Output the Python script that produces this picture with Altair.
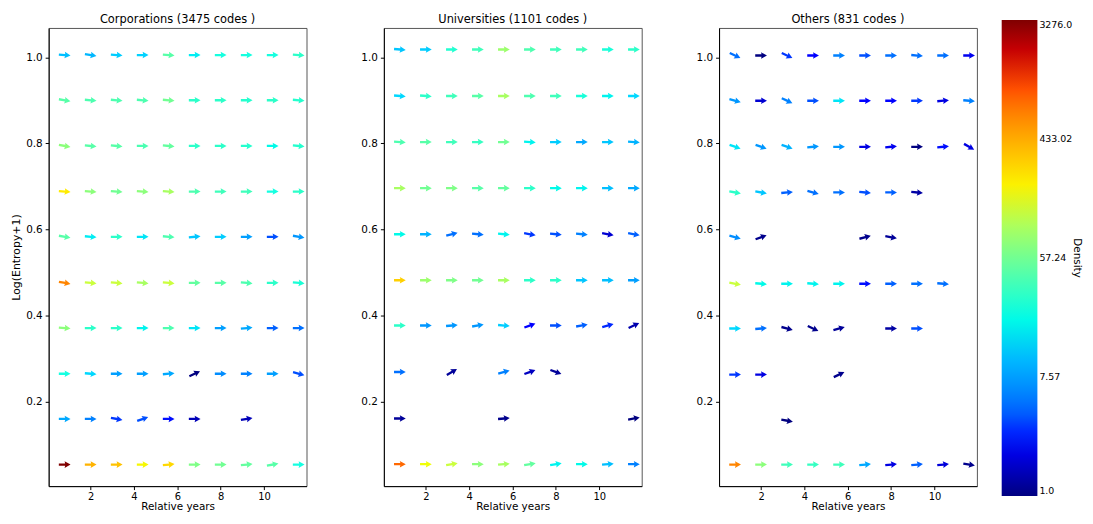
import altair as alt
import numpy as np
import pandas as pd

PANELS = ["Corporations (3475 codes )", "Universities (1101 codes )", "Others (831 codes )"]
XS = [0.8, 2.0, 3.2, 4.4, 5.6, 6.8, 8.0, 9.2, 10.4, 11.6]
YS_CORP = [1.005, 0.900, 0.794, 0.688, 0.583, 0.476, 0.371, 0.265, 0.160, 0.054]
YS_UNIV = [1.018, 0.910, 0.803, 0.696, 0.589, 0.482, 0.377, 0.269, 0.161, 0.055]
YS_OTH = [1.004, 0.899, 0.792, 0.686, 0.582, 0.474, 0.370, 0.263, 0.156, 0.054]
N = None

DENS_CORP = [
    [11, 10, 13, 14, 45, 18, 22, 22, 22, 30],
    [45, 41, 41, 41, 57, 30, 30, 28, 30, 28],
    [73, 45, 45, 40, 50, 30, 30, 28, 20, 28],
    [210, 73, 57, 73, 95, 41, 36, 36, 21, 30],
    [45, 18, 30, 17, 41, 12, 13, 7.6, 3.7, 7],
    [640, 130, 130, 95, 130, 50, 45, 41, 30, 25],
    [73, 30, 30, 19, 41, 17, 7.6, 8.5, 4.2, 4.8],
    [21, 15, 7.6, 7.6, 8.5, 1.0, 6.3, 5.6, 7.6, 3.7],
    [8.5, 5.6, 3.2, 3.7, 2.8, 1.5, N, 1.5, N, N],
    [3276, 400, 340, 190, 265, 65, 57, 50, 45, 21],
]
ANG_CORP = [
    [5, 10, 5, 0, 5, 0, 0, 0, 0, 5],
    [10, 5, 5, 5, 5, 0, 0, 0, 0, 5],
    [10, 5, 5, 0, 5, 0, 0, 0, 0, 5],
    [5, 5, 5, 5, 5, 0, 0, 0, 0, 0],
    [10, 5, 0, 0, 5, -5, 0, 0, 0, 10],
    [10, 5, 5, 5, 5, 0, 0, 5, 0, 5],
    [5, 0, 0, 0, 0, 0, 0, -5, 0, 0],
    [0, 5, 0, 0, -5, -25, 0, 0, 0, 15],
    [0, 0, 10, -20, 0, 0, 0, -10, 0, 0],
    [0, 0, 0, 0, -5, 0, 0, -5, -10, 0],
]

DENS_UNIV = [
    [12, 13, 27, 36, 85, 41, 36, 36, 24, 30],
    [15, 30, 36, 45, 95, 41, 36, 24, 19, 15],
    [41, 45, 36, 33, 57, 19, 13, 8.5, 12, 9.5],
    [95, 57, 65, 45, 50, 30, 20, 19, 11, 8.5],
    [20, 9.5, 4.8, 4.8, 19, 3.2, 3.7, 5.6, 1.8, 4.2],
    [290, 85, 65, 57, 95, 30, 30, 12, 11, 7.6],
    [30, 7, 7, 7, 13, 2.6, 3.7, 4.2, 3, 1.4],
    [4.8, N, 1.2, N, 5.6, 1.6, 1.2, N, N, N],
    [1.2, N, N, N, 1.1, N, N, N, N, 1.0],
    [830, 180, 130, 73, 95, 50, 19, 20, 11, 5.6],
]
ANG_UNIV = [
    [5, 0, 0, 0, 0, 0, 0, 0, 0, 0],
    [5, 5, 0, 0, 0, 0, 0, 0, 0, 0],
    [5, 0, 0, 0, 0, 5, 0, 0, 0, 5],
    [0, 0, 0, 0, 0, 0, 0, 0, 0, 0],
    [0, 0, -15, 5, 5, 10, 5, 5, 10, 10],
    [0, 0, 0, 0, 0, 0, 0, 0, 0, 0],
    [0, 0, -5, -10, 5, -20, 0, -10, -15, -25],
    [0, 0, -30, 0, -15, -20, 20, 0, 0, 0],
    [0, 0, 0, 0, -5, 0, 0, 0, 0, -10],
    [0, 0, -10, 0, -5, -10, -10, 0, -5, 0],
]

DENS_OTH = [
    [4.8, 1.0, 3.2, 2.5, 5.6, 3.7, 4.8, 4.8, 4.8, 2.2],
    [7, 1.8, 5.6, 3.7, 17, 2.6, 2.6, 3.2, 2, 5.6],
    [17, 7, 9.5, 7, 7, 2, 2.2, 1.0, 2.8, 2],
    [30, 12, 4.2, 4.8, 4.8, 3.7, 4.2, 1.3, N, N],
    [6.3, 1.1, N, N, N, 1.1, 1.2, N, N, N],
    [130, 20, 19, 19, 19, 2.8, 4.2, 4.8, 4.8, N],
    [15, 4.8, 1.1, 1.1, 1.2, N, 1.3, 3.7, N, N],
    [3.2, 2, N, N, 1.1, N, N, N, N, N],
    [N, N, 1.0, N, N, N, N, N, N, N],
    [640, 73, 36, 33, 36, 8.5, 2, 4.2, 1.9, 1.1],
]
ANG_OTH = [
    [25, 0, 25, 0, 0, 0, 0, 5, 0, 0],
    [15, 0, 25, 0, 0, 0, 0, 0, -5, 5],
    [20, 20, 20, -5, 0, 0, -5, 0, -5, 30],
    [10, 10, -5, 15, 0, 5, 0, 5, 0, 0],
    [15, -20, 0, 0, 0, -15, 10, 0, 0, 0],
    [10, 5, 0, 5, 0, 0, 0, 0, 5, 0],
    [0, -5, 15, 25, -15, 0, 0, 0, 0, 0],
    [0, 0, 0, 0, -25, 0, 0, 0, 0, 0],
    [0, 0, 10, 0, 0, 0, 0, 0, 0, 0],
    [0, 0, 0, 0, 0, -5, -5, -5, -5, 10],
]

CBAR_TICKS = [1.0, 7.57, 57.24, 433.02, 3276.0]
DMIN, DMAX = 1.0, 3276.0

# matplotlib "jet" colormap breakpoints
JET_T = [0.0, 0.11, 0.125, 0.34, 0.35, 0.375, 0.64, 0.65, 0.66, 0.89, 0.91, 1.0]
R = np.interp(JET_T, [0, 0.35, 0.66, 0.89, 1], [0, 0, 1, 1, 0.5])
G = np.interp(JET_T, [0, 0.125, 0.375, 0.64, 0.91, 1], [0, 0, 1, 1, 0, 0])
B = np.interp(JET_T, [0, 0.11, 0.34, 0.65, 1], [0.5, 1, 1, 0, 0])
JET_RANGE = ["#%02x%02x%02x" % (int(round(r * 255)), int(round(g * 255)), int(round(b * 255)))
             for r, g, b in zip(R, G, B)]
JET_DOMAIN = [float(DMIN * (DMAX / DMIN) ** t) for t in JET_T]

rows = []
for name, ys, dens, ang in [(PANELS[0], YS_CORP, DENS_CORP, ANG_CORP),
                            (PANELS[1], YS_UNIV, DENS_UNIV, ANG_UNIV),
                            (PANELS[2], YS_OTH, DENS_OTH, ANG_OTH)]:
    for r in range(10):
        for c in range(10):
            d = dens[r][c]
            if d is None:
                continue
            rows.append(dict(panel=name, x=XS[c], y=ys[r], density=d, angle=ang[r][c] % 360))
df = pd.DataFrame(rows)

ARROW = "M -1 -0.2 L 0.08 -0.2 L -0.02 -0.56 L 1 0 L -0.02 0.56 L 0.08 0.2 L -1 0.2 Z"

legend = alt.Legend(
    title="Density", type="gradient", direction="vertical",
    gradientLength=480, gradientThickness=36, gradientStrokeWidth=0,
    values=CBAR_TICKS, format=".2f",
    labelExpr="datum.value == 1 ? '1.0' : datum.value > 3000 ? '3276.0' : datum.label",
    labelFontSize=9.5, labelFont="DejaVu Sans", labelColor="#000000", labelOffset=2,
    titleOrient="right", titleFontSize=10.5, titleFontWeight="normal", titlePadding=0,
    titleFont="DejaVu Sans", titleColor="#000000", titleAnchor="middle",
    padding=0, orient="none", legendX=961, legendY=-8,
)


def panel(i):
    name = PANELS[i]
    ytitle = "Log(Entropy+1)" if i == 0 else None
    return alt.Chart(df[df.panel == name], title=name).mark_point(
        shape=ARROW, filled=True, opacity=1, size=140, strokeWidth=0
    ).encode(
        x=alt.X("x:Q", scale=alt.Scale(domain=[0.06, 11.96], nice=False, zero=False),
                axis=alt.Axis(values=[2, 4, 6, 8, 10], format="d"), title="Relative years"),
        y=alt.Y("y:Q", scale=alt.Scale(domain=[0.004, 1.068], nice=False, zero=False),
                axis=alt.Axis(values=[0.2, 0.4, 0.6, 0.8, 1.0], format=".1f"), title=ytitle),
        color=alt.Color("density:Q", scale=alt.Scale(type="log", domain=JET_DOMAIN, range=JET_RANGE),
                        legend=legend),
        angle=alt.Angle("angle:Q", scale=None),
    ).properties(width=260, height=462)


chart = alt.hconcat(panel(0), panel(1), panel(2), spacing=53).properties(
    padding={"left": 2, "top": 4, "right": 3, "bottom": 0}
).configure_view(
    stroke="#555555", strokeWidth=1
).configure_axis(
    grid=False, domainColor="#000000", tickColor="#000000", tickSize=3.5,
    labelFont="DejaVu Sans", labelFontSize=10.5, labelColor="#000000",
    titleFont="DejaVu Sans", titleFontSize=11, titleFontWeight="normal", titleColor="#000000",
    titlePadding=4,
).configure_axisX(
    labelPadding=2, labelFontSize=10, titlePadding=0, titleFontSize=10.5
).configure_axisY(
    labelPadding=3
).configure_title(
    font="DejaVu Sans", fontSize=11.5, fontWeight="normal", color="#000000", offset=2
)

chart.save("out.html", embed_options={"renderer": "svg", "actions": False})
